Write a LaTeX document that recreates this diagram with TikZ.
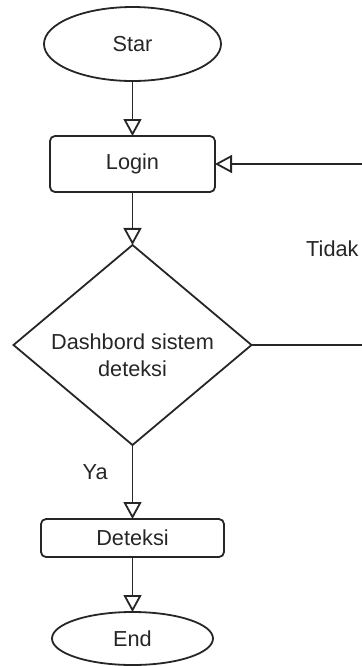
\documentclass[tikz,border=0pt]{standalone}
\usepackage{fontspec}
\setmainfont{Liberation Sans}
\usepackage{tikz}
\usetikzlibrary{shapes.geometric, arrows.meta, positioning}
\definecolor{inkgray}{RGB}{38,38,38}
\tikzset{
    termbox/.style={ellipse, draw=inkgray, line width=0.9pt,
                    inner sep=0pt, outer sep=0pt, text=inkgray,
                    font=\fontsize{10.85}{13.3}\selectfont},
    stepbox/.style={rectangle, rounded corners=2.5pt, draw=inkgray,
                    line width=0.9pt, inner sep=0pt, outer sep=0pt,
                    text=inkgray, font=\fontsize{10.85}{13.3}\selectfont},
    decbox/.style={diamond, shape aspect=1.19, draw=inkgray, line width=0.9pt,
                   align=center, inner sep=0pt, outer sep=0pt, text=inkgray,
                   font=\fontsize{10.85}{13.3}\selectfont},
    arrow/.style={-{Triangle[open, length=8.5pt, width=9pt]},
                  line width=0.9pt, draw=inkgray},
    edgelbl/.style={font=\fontsize{10.85}{13.3}\selectfont, text=inkgray,
                    inner sep=0pt},
}
\begin{document}
\begin{tikzpicture}
    \useasboundingbox (0pt,0pt) rectangle (181pt,-333pt);
    \clip (0pt,0pt) rectangle (181pt,-333pt);
        \node[termbox, minimum width=88.5pt, minimum height=37pt] (star)
            at (66.25pt,-22pt) {Star};
        \node[stepbox, minimum width=82.5pt, minimum height=28pt,
            below=27.5pt of star] (login) {Login};
        \node[decbox, minimum width=119pt, minimum height=100pt,
            below=26.5pt of login] (dash)
            {\rule{0pt}{18pt}Dashbord sistem\\
            deteksi};
        \node[stepbox, minimum width=91.5pt, minimum height=19pt,
            below=37pt of dash] (deteksi) {Deteksi};
        \node[termbox, minimum width=80.5pt, minimum height=26.5pt,
            below=27.5pt of deteksi] (end) {End};
        \coordinate (loopback) at ([xshift=58.25pt]dash.east);
        \draw[arrow] (star) -- (login);
        \draw[arrow] (login) -- (dash);
        \draw[arrow]
            (dash.south) --
            node[edgelbl, pos=0.36, left=12pt] {Ya}
            (deteksi.north);
        \draw[arrow] (deteksi) -- (end);
        \draw[arrow]
            (dash.east)
            -- (loopback)
            |- node[edgelbl, pos=0.265, left=4.3pt] {Tidak}
            (login.east);
    \end{tikzpicture}
\end{document}
